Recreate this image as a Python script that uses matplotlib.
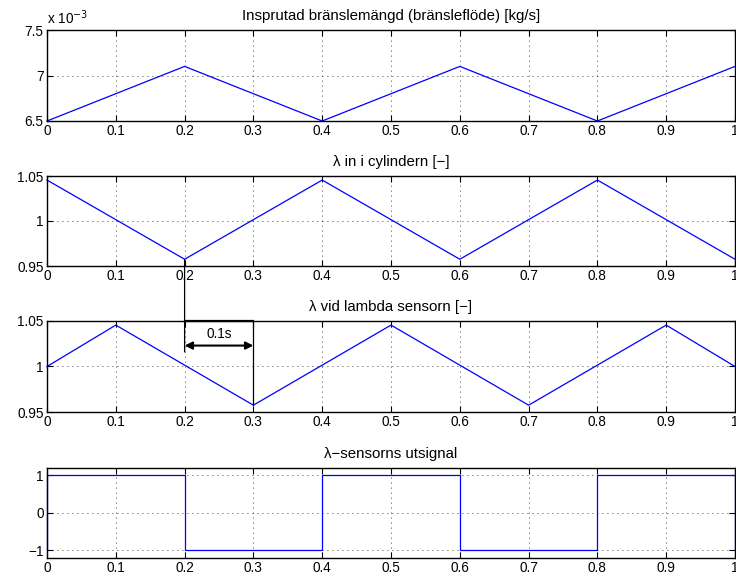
import matplotlib
matplotlib.use("Agg")
import matplotlib.pyplot as plt
from matplotlib.patches import ConnectionPatch
from matplotlib.ticker import FuncFormatter

plt.rcParams['font.family'] = ['Liberation Sans', 'DejaVu Sans']
plt.rcParams['font.size'] = 9.8

# ---- data ----
t_tri = [0.0, 0.2, 0.4, 0.6, 0.8, 1.0]
fuel = [6.5e-3, 7.1e-3, 6.5e-3, 7.1e-3, 6.5e-3, 7.1e-3]
lam_cyl = [1.0455, 0.9575, 1.0455, 0.9575, 1.0455, 0.9575]
t_sens = [0.0, 0.1, 0.3, 0.5, 0.7, 0.9, 1.0]
lam_sens = [1.0, 1.0455, 0.9575, 1.0455, 0.9575, 1.0455, 1.0]
t_sq = [0.0, 0.0, 0.2, 0.2, 0.4, 0.4, 0.6, 0.6, 0.8, 0.8, 1.0, 1.0]
sig = [-1, 1, 1, -1, -1, 1, 1, -1, -1, 1, 1, -1]

titles = ["Insprutad bränslemängd (bränsleflöde) [kg/s]",
          "λ in i cylindern [−]",
          "λ vid lambda sensorn [−]",
          "λ−sensorns utsignal"]
xticks = [0, 0.1, 0.2, 0.3, 0.4, 0.5, 0.6, 0.7, 0.8, 0.9, 1.0]
xticklabels = ["0", "0.1", "0.2", "0.3", "0.4", "0.5", "0.6", "0.7", "0.8", "0.9", "1"]

W, H = 736, 583
fig = plt.figure(figsize=(W / 100, H / 100), dpi=100)

left = 47 / W
width = (735 - 47) / W
tops = [30, 176, 321, 467.7]
bots = [121, 266, 412, 558]
axes = []
for tp, bt in zip(tops, bots):
    ax = fig.add_axes([left, 1 - bt / H, width, (bt - tp) / H])
    axes.append(ax)

series = [(t_tri, fuel), (t_tri, lam_cyl), (t_sens, lam_sens), (t_sq, sig)]
for ax, (tx, ty), ttl in zip(axes, series, titles):
    ax.plot(tx, ty, color=(0, 0, 1), lw=0.9, clip_on=False)
    ax.set_xlim(0, 1)
    ax.set_xticks(xticks)
    ax.set_xticklabels(xticklabels)
    ax.set_title(ttl, fontsize=10.8, pad=7)
    ax.grid(True, color='black', linestyle=(0, (1, 5)), lw=0.6)
    ax.tick_params(direction='in', top=True, right=True, length=4, width=0.8, pad=2.5)
    for s in ax.spines.values():
        s.set_linewidth(1.0)

axes[0].set_ylim(6.5e-3, 7.5e-3)
axes[0].set_yticks([6.5e-3, 7e-3, 7.5e-3])
axes[0].yaxis.set_major_formatter(FuncFormatter(lambda v, p: ("%g" % round(v * 1e3, 3))))
axes[0].text(0, 1.03, r"x 10$^{-3}$", transform=axes[0].transAxes, ha='left', va='bottom')

for ax in axes[1:3]:
    ax.set_ylim(0.95, 1.05)
    ax.set_yticks([0.95, 1.0, 1.05])
    ax.set_yticklabels(["0.95", "1", "1.05"])

axes[3].set_ylim(-1.2, 1.2)
axes[3].set_yticks([-1, 0, 1])
axes[3].set_yticklabels(["−1", "0", "1"])

# ---- delay annotation ----
ax2, ax3 = axes[1], axes[2]
con = ConnectionPatch(xyA=(0.2, lam_cyl[1]), coordsA=ax2.transData,
                      xyB=(0.2, 1.016), coordsB=ax3.transData,
                      color='black', lw=0.9, zorder=10)
fig.add_artist(con)
ax3.plot([0.2, 0.3], [1.05, 1.05], color='black', lw=1.6, clip_on=False, zorder=10)
ax3.plot([0.3, 0.3], [1.05, lam_sens[2]], color='black', lw=0.9, zorder=10)
ax3.annotate("", xy=(0.2, 1.023), xytext=(0.3, 1.023),
             arrowprops=dict(arrowstyle='<|-|>', color='black', lw=1.5,
                             shrinkA=0, shrinkB=0, mutation_scale=11), zorder=10)
ax3.text(0.25, 1.028, "0.1s", ha='center', va='bottom')

fig.savefig("out.png", dpi=100)
